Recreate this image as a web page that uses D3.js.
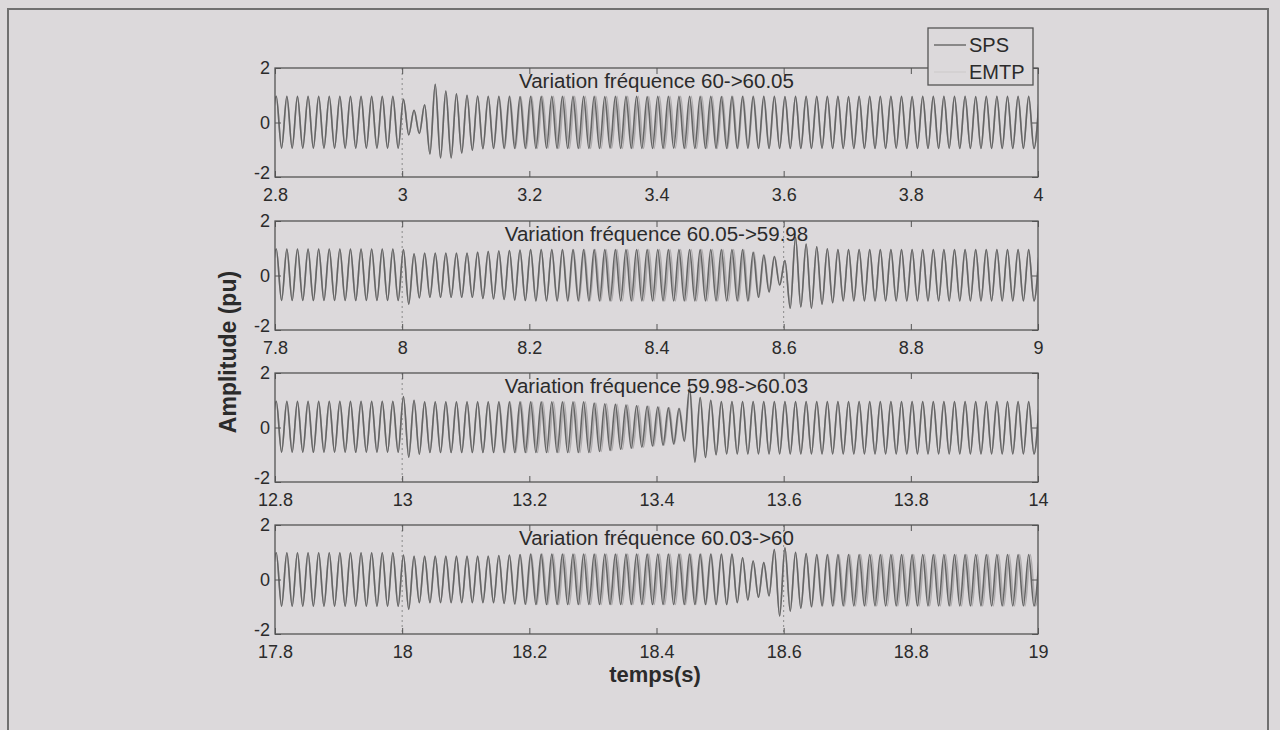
<!DOCTYPE html>
<html><head><meta charset="utf-8">
<script src="https://cdn.jsdelivr.net/npm/d3@7"></script>
<style>
html,body{margin:0;padding:0;background:#dcd9db;}
svg{display:block;font-family:"Liberation Sans",Arial,sans-serif;}
</style></head><body>
<svg id="c" width="1280" height="730"></svg>
<script>
// ---------------- DATA ----------------
const panelTitles = [
  "Variation fréquence 60->60.05",
  "Variation fréquence 60.05->59.98",
  "Variation fréquence 59.98->60.03",
  "Variation fréquence 60.03->60"
];
const xDomain1 = [2.8, 4], xDomain2 = [7.8, 9], xDomain3 = [12.8, 14], xDomain4 = [17.8, 19];
const xTicks1 = [2.8, 3, 3.2, 3.4, 3.6, 3.8, 4];
const xTicks2 = [7.8, 8, 8.2, 8.4, 8.6, 8.8, 9];
const xTicks3 = [12.8, 13, 13.2, 13.4, 13.6, 13.8, 14];
const xTicks4 = [17.8, 18, 18.2, 18.4, 18.6, 18.8, 19];
const yTicks = [-2, 0, 2];
const legendLabels = ["SPS", "EMTP"];
const xLabel = "temps(s)";
const yLabel = "Amplitude (pu)";
// time of the first extremum of each panel and spacing of successive extrema (half a 60 Hz cycle)
const firstExtremum = [2.79367, 7.79367, 12.79367, 17.79367];
const halfCycle = 1 / 120;
// event markers (dotted vertical lines)
const markers1 = [3], markers2 = [8, 8.6], markers3 = [13], markers4 = [18, 18.6];

// SPS waveform: successive extrema (trough, peak, trough, ...)
const sps1 = [
 -0.94,
 0.96,-0.94,0.96,-0.94,0.96,-0.94,0.96,-0.94,0.96,-0.94,0.96,-0.94,
 0.96,-0.94,0.96,-0.94,0.96,-0.94,0.96,-0.94,0.96,-0.94,0.96,-0.94,
 0.85,-0.45,0.45,-0.40,0.65,-1.15,1.40,-1.30,1.15,-1.30,1.05,-1.12,1.00,-1.02,
 0.97,-0.96,0.96,-0.95,0.96,-0.95,0.96,-0.95,0.95,-0.95,0.96,-0.95,0.96,-0.94,0.96,-0.95,0.96,-0.95,0.96,-0.95,
 0.96,-0.95,0.96,-0.95,0.95,-0.94,0.96,-0.95,0.96,-0.95,0.96,-0.95,0.95,-0.95,0.96,-0.95,0.96,-0.94,0.96,-0.95,
 0.96,-0.95,0.96,-0.95,0.96,-0.95,0.95,-0.95,0.96,-0.95,0.96,-0.94,0.96,-0.95,0.96,-0.95,0.96,-0.95,0.95,-0.95,
 0.96,-0.95,0.96,-0.95,0.96,-0.94,0.96,-0.95,0.96,-0.95,0.95,-0.95,0.96,-0.95,0.96,-0.95,0.96,-0.95,0.96,-0.94,
 0.96,-0.95,0.95,-0.95,0.96,-0.95,0.96,-0.95,0.96,-0.94,0.96,-0.95,0.96,-0.95,0.95,-0.95,0.96,-0.95,0.96,-0.95,
 0.96,-0.95,0.96,-0.95,0.96,-0.95,0.96
];
const sps2 = [
 -0.92,
 0.97,-0.92,0.97,-0.92,0.97,-0.92,0.97,-0.92,0.97,-0.92,0.97,-0.92,
 0.97,-0.92,0.97,-0.92,0.97,-0.92,0.97,-0.92,0.97,-0.92,0.97,-0.92,
 0.95,-1.05,0.80,-0.82,
 0.82,-0.80,0.82,-0.80,0.82,-0.80,0.82,-0.80,0.82,-0.80,
 0.85,-0.84,0.88,-0.86,0.90,-0.88,0.92,-0.90,0.93,-0.92,
 0.95,-0.93,0.95,-0.93,0.95,-0.93,0.95,-0.93,0.95,-0.93,0.95,-0.93,0.95,-0.93,
 0.95,-0.93,0.95,-0.93,0.95,-0.93,0.95,-0.93,0.95,-0.93,0.95,-0.93,0.95,-0.93,
 0.95,-0.93,0.95,-0.93,0.95,-0.93,0.95,-0.93,0.95,-0.93,0.95,-0.93,0.95,-0.93,
 0.85,-0.80,0.75,-0.60,0.70,-0.35,0.55,-1.20,1.40,-1.15,1.15,-1.20,1.05,-1.05,0.98,-1.00,
 0.95,-0.93,0.95,-0.93,0.95,-0.93,0.95,-0.93,0.95,-0.93,0.95,-0.93,0.95,-0.93,
 0.95,-0.93,0.95,-0.93,0.95,-0.93,0.95,-0.93,0.95,-0.93,0.95,-0.93,
 0.95,-0.93,0.95,-0.93,0.95,-0.93,0.95,-0.93,0.95,-0.93,0.95,-0.93,
 0.95
];
const sps3 = [
 -0.91,
 0.96,-0.91,0.96,-0.91,0.96,-0.91,0.96,-0.91,0.96,-0.91,0.96,-0.91,
 0.96,-0.91,0.96,-0.91,0.96,-0.91,0.96,-0.91,0.96,-0.91,0.96,-0.91,
 1.14,-1.09,1.00,-0.98,
 0.94,-0.92,0.94,-0.92,0.94,-0.92,0.94,-0.92,0.94,-0.92,0.94,-0.92,0.94,-0.92,0.94,-0.92,
 0.94,-0.92,0.94,-0.92,0.94,-0.92,0.94,-0.92,0.94,-0.92,0.94,-0.92,0.94,-0.92,0.94,-0.92,
 0.90,-0.88,0.87,-0.84,0.85,-0.80,0.82,-0.76,0.80,-0.72,0.78,-0.68,
 0.75,-0.65,0.72,-0.60,0.70,-0.50,1.45,-1.27,1.10,-1.10,1.00,-1.00,
 0.95,-0.97,0.95,-0.97,0.95,-0.97,0.95,-0.97,0.95,-0.97,0.95,-0.97,0.95,-0.97,0.95,-0.97,0.95,-0.97,0.95,-0.97,
 0.95,-0.97,0.95,-0.97,0.95,-0.97,0.95,-0.97,0.95,-0.97,0.95,-0.97,0.95,-0.97,0.95,-0.97,0.95,-0.97,0.95,-0.97,
 0.95,-0.97,0.95,-0.97,0.95,-0.97,0.95,-0.97,0.95,-0.97,0.95,-0.97,0.95,-0.97,0.95,-0.97,0.95,-0.97,0.95,-0.97,
 0.95
];
const sps4 = [
 -0.98,
 0.98,-0.98,0.98,-0.98,0.98,-0.98,0.98,-0.98,0.98,-0.98,0.98,-0.98,
 0.98,-0.98,0.98,-0.98,0.98,-0.98,0.98,-0.98,0.98,-0.98,0.98,-0.98,
 0.90,-1.09,
 0.85,-0.85,0.85,-0.85,0.85,-0.85,0.85,-0.85,0.85,-0.85,0.85,-0.85,0.85,-0.85,0.85,-0.85,
 0.88,-0.88,0.90,-0.90,0.92,-0.91,
 0.93,-0.92,0.93,-0.92,0.93,-0.92,0.93,-0.92,0.93,-0.92,0.93,-0.92,0.93,-0.92,0.93,-0.92,0.93,-0.92,0.93,-0.92,
 0.93,-0.92,0.93,-0.92,0.93,-0.92,0.93,-0.92,0.93,-0.92,0.93,-0.92,0.93,-0.92,0.93,-0.92,0.93,-0.92,
 0.93,
 -0.85,0.80,-0.75,0.68,-0.65,0.62,-0.60,1.10,-1.34,1.16,-1.16,1.00,-1.05,0.95,-1.00,
 0.92,-0.97,0.92,-0.97,0.92,-0.97,0.92,-0.97,0.92,-0.97,0.92,-0.97,0.92,-0.97,0.92,-0.97,0.92,-0.97,0.92,-0.97,
 0.92,-0.97,0.92,-0.97,0.92,-0.97,0.92,-0.97,0.92,-0.97,0.92,-0.97,0.92,-0.97,0.92,-0.97,0.92,-0.97,0.92,-0.97,
 0.92,-0.97,
 0.92
];
// EMTP: lag (ms) with respect to SPS, one value per cycle
const emtpLag1 = [
 0,0,0,0,0,0,0,0,0,0,0,0,0,0,0,0,0,0,0,0,0,
 0.4,0.8,1.2,1.6,2.0,2.4,
 2.6,2.6,2.6,2.6,2.6,2.6,2.6,2.6,2.6,2.6,2.6,2.6,2.6,2.6,
 2.2,1.8,1.4,1.0,0.7,0.4,0.2,0.1,
 0,0,0,0,0,0,0,0,0,0,0,0,0,0,0,0,0,0,0,0,0,0,0,0
];
const emtpLag2 = [
 0,0,0,0,0,0,0,0,0,0,0,0,0,0,0,0,0,0,0,0,0,0,0,0,0,0,0,
 0.4,0.8,1.2,1.6,2.0,2.4,
 2.6,2.6,2.6,2.6,2.6,2.6,2.6,2.6,2.6,2.6,2.6,
 2.0,1.4,0.8,0.4,0.1,
 0,0,0,0,0,0,0,0,0,0,0,0,0,0,0,0,0,0,0,0,0,0,0,0
];
const emtpLag3 = [
 0,0,0,0,0,0,0,0,0,0,0,0,0,0,0,0,0,0,0,0,0,
 0.5,1.0,1.5,2.0,2.4,
 2.6,2.6,2.6,2.6,2.6,2.6,2.6,2.6,2.6,2.6,
 2.0,1.5,1.0,0.6,0.3,0.1,
 0,0,0,0,0,0,0,0,0,0,0,0,0,0,0,0,0,0,0,0,0,0,0,0,0,0,0,0,0,0,0
];
const emtpLag4 = [
 0,0,0,0,0,0,0,0,0,0,0,0,0,0,0,0,0,0,0,0,0,0,0,
 0.5,1.0,1.5,2.0,2.4,
 2.6,2.6,2.6,2.6,2.6,2.6,2.6,2.6,2.6,2.6,2.6,
 2.0,1.4,0.8,0.4,0.1,0,
 0,0,0,0,0,0,
 0.5,1.0,1.5,2.0,2.4,2.6,
 2.6,2.6,2.6,2.6,2.6,2.6,2.6,2.6,2.6,2.6,2.6,2.6,2.6,2.6,2.6,2.6
];

// ---------------- DRAW ----------------
const panels = [
  {title: panelTitles[0], domain: xDomain1, ticks: xTicks1, t0: firstExtremum[0], sps: sps1, lag: emtpLag1, markers: markers1},
  {title: panelTitles[1], domain: xDomain2, ticks: xTicks2, t0: firstExtremum[1], sps: sps2, lag: emtpLag2, markers: markers2},
  {title: panelTitles[2], domain: xDomain3, ticks: xTicks3, t0: firstExtremum[2], sps: sps3, lag: emtpLag3, markers: markers3},
  {title: panelTitles[3], domain: xDomain4, ticks: xTicks4, t0: firstExtremum[3], sps: sps4, lag: emtpLag4, markers: markers4}
];

const BG = "#dcd9db", AX = "#555", TXT = "#2b2b2b";
const SPS_COL = "#656565", EMTP_COL = "#adaaac";
const X0 = 275, X1 = 1038, H = 109, tops = [68, 221, 373, 525];

const svg = d3.select("#c");
svg.append("rect").attr("width", 1280).attr("height", 730).attr("fill", BG);
svg.append("rect").attr("x", 8).attr("y", 9).attr("width", 1260).attr("height", 760)
  .attr("fill", "none").attr("stroke", "#707070").attr("stroke-width", 2);

const defs = svg.append("defs");
defs.append("clipPath").attr("id", "plotclip")
  .append("rect").attr("x", X0).attr("y", 0).attr("width", X1 - X0).attr("height", H);

panels.forEach((p, pi) => {
  const g = svg.append("g").attr("transform", `translate(0,${tops[pi]})`);
  const x = d3.scaleLinear().domain(p.domain).range([X0, X1]);
  const y = d3.scaleLinear().domain([-2, 2]).range([H, 0]);

  // event markers
  g.selectAll("line.mk").data(p.markers).join("line").attr("class", "mk")
    .attr("x1", d => x(d)).attr("x2", d => x(d)).attr("y1", 0).attr("y2", H)
    .attr("stroke", "#8a8a8a").attr("stroke-width", 1).attr("stroke-dasharray", "2,3");

  const spsPts = p.sps.map((v, k) => [p.t0 + k * halfCycle, v]);
  const emtpPts = p.sps.map((v, k) => [p.t0 + k * halfCycle + p.lag[Math.min(p.lag.length - 1, Math.floor(k / 2))] / 1000, v]);
  const line = d3.line().x(d => x(d[0])).y(d => y(d[1])).curve(d3.curveMonotoneX);

  const plot = g.append("g").attr("clip-path", "url(#plotclip)");
  plot.append("path").attr("d", line(emtpPts)).attr("fill", "none")
    .attr("stroke", EMTP_COL).attr("stroke-width", 1.6);
  plot.append("path").attr("d", line(spsPts)).attr("fill", "none")
    .attr("stroke", SPS_COL).attr("stroke-width", 1.6);

  // axes (MATLAB style inward ticks)
  const fmt = d => String(d);
  const bottom = g.append("g").attr("transform", `translate(0,${H})`)
    .call(d3.axisBottom(x).tickValues(p.ticks).tickSize(-6).tickFormat(fmt));
  bottom.selectAll("text").attr("y", 24).attr("dy", 0).style("font-size", "18px");
  const top = g.append("g")
    .call(d3.axisTop(x).tickValues(p.ticks).tickSize(-6).tickFormat(""));
  const left = g.append("g").attr("transform", `translate(${X0},0)`)
    .call(d3.axisLeft(y).tickValues(yTicks).tickSize(-6).tickPadding(5).tickFormat(fmt));
  left.selectAll("text").style("font-size", "18px")
    .attr("dy", d => d === -2 ? "0.1em" : "0.32em");
  const right = g.append("g").attr("transform", `translate(${X1},0)`)
    .call(d3.axisRight(y).tickValues(yTicks).tickSize(-6).tickFormat(""));
  [bottom, top, left, right].forEach(a => {
    a.select(".domain").remove();
    a.selectAll("line").attr("stroke", AX);
    a.selectAll("text").attr("fill", TXT).style("font-family", "'Liberation Sans', Arial, sans-serif");
  });
  g.append("rect").attr("x", X0).attr("y", 0).attr("width", X1 - X0).attr("height", H)
    .attr("fill", "none").attr("stroke", AX).attr("stroke-width", 1.3);

  g.append("text").attr("x", (X0 + X1) / 2).attr("y", 20).attr("text-anchor", "middle")
    .attr("fill", TXT).style("font-size", "20.5px").text(p.title);
});

// axis labels
svg.append("text").attr("transform", "translate(236,352) rotate(-90)")
  .attr("text-anchor", "middle").attr("fill", TXT)
  .style("font-size", "23px").style("font-weight", "bold").text(yLabel);
svg.append("text").attr("x", 655).attr("y", 682).attr("text-anchor", "middle")
  .attr("fill", TXT).style("font-size", "22px").style("font-weight", "bold").text(xLabel);

// legend
const lg = svg.append("g");
lg.append("rect").attr("x", 928).attr("y", 28).attr("width", 105).attr("height", 57)
  .attr("fill", BG).attr("stroke", AX).attr("stroke-width", 1.3);
const legendColors = [SPS_COL, "#d0cdcf"];
legendLabels.forEach((lab, i) => {
  const yy = 45 + i * 27;
  lg.append("line").attr("x1", 934).attr("x2", 966).attr("y1", yy).attr("y2", yy)
    .attr("stroke", legendColors[i]).attr("stroke-width", 1.4);
  lg.append("text").attr("x", 969).attr("y", yy + 7).attr("fill", TXT)
    .style("font-size", "20px").text(lab);
});
</script>
</body></html>
